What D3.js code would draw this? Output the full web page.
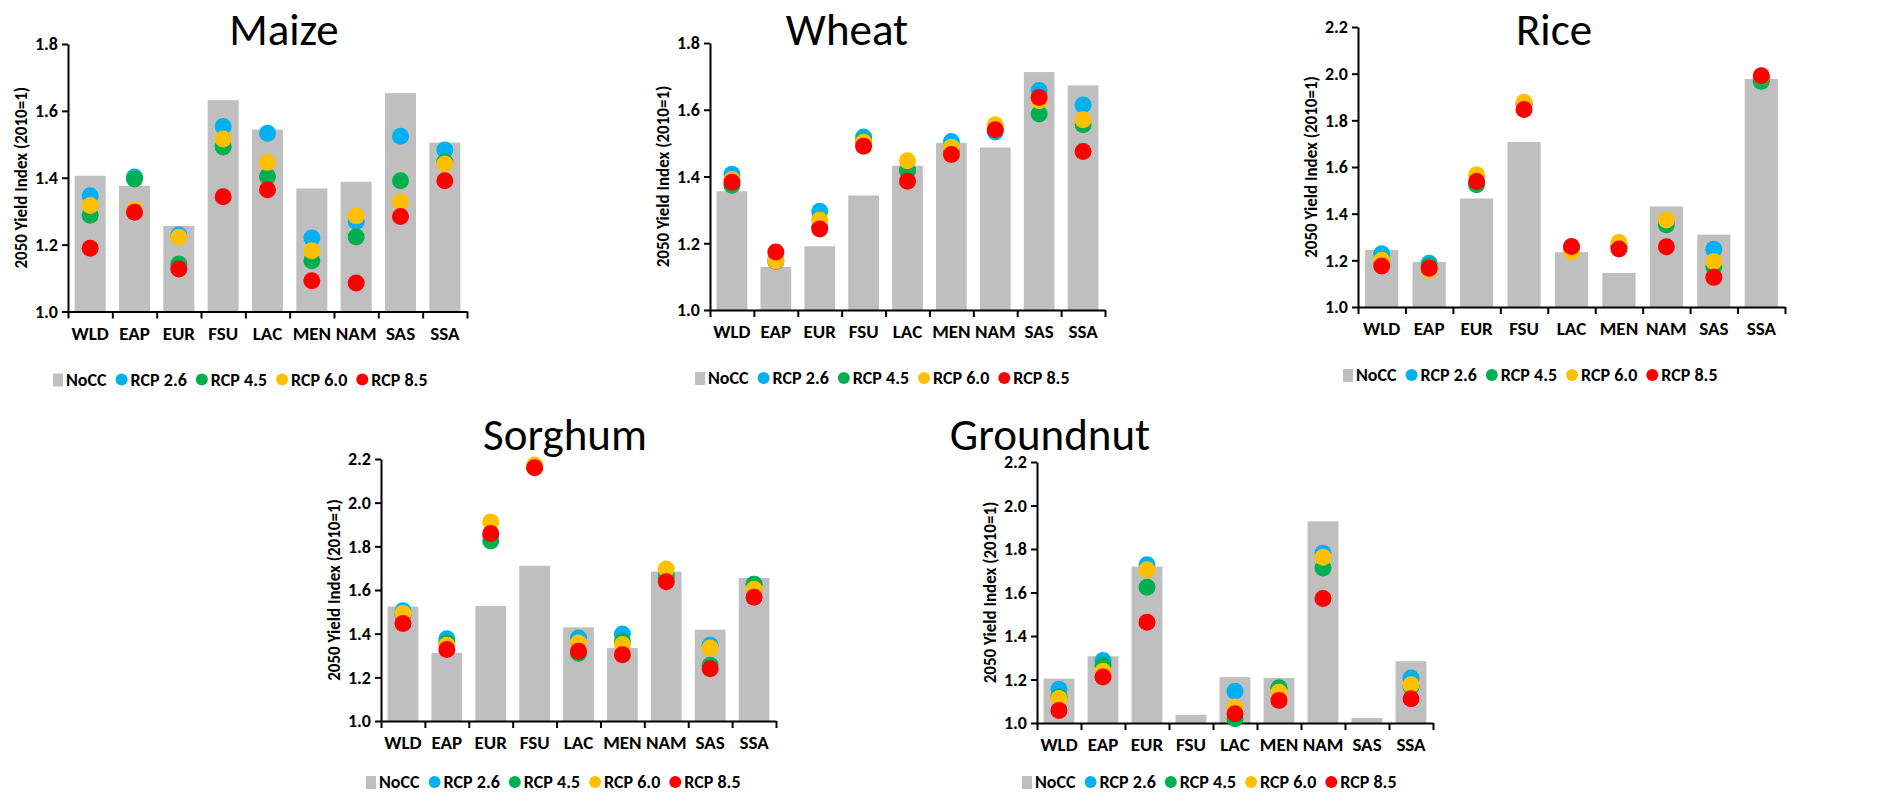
<!DOCTYPE html>
<html>
<head>
<meta charset="utf-8">
<script src="https://cdn.jsdelivr.net/npm/d3@7"></script>
<style>
  body { margin: 0; background: #fff; }
  svg { display: block; }
</style>
</head>
<body>
<div id="viz"></div>
<script>
// regions on the x axis
const regions = ['WLD','EAP','EUR','FSU','LAC','MEN','NAM','SAS','SSA'];
const seriesNames = ['NoCC','RCP 2.6','RCP 4.5','RCP 6.0','RCP 8.5'];

// Maize
const maizeNoCC  = [1.406, 1.376, 1.256, 1.632, 1.544, 1.368, 1.388, 1.653, 1.505];
const maizeRcp26 = [1.346, 1.402, 1.229, 1.553, 1.533, 1.220, 1.269, 1.524, 1.483];
const maizeRcp45 = [1.288, 1.396, 1.142, 1.492, 1.404, 1.152, 1.223, 1.391, 1.447];
const maizeRcp60 = [1.317, 1.305, 1.222, 1.516, 1.446, 1.182, 1.286, 1.328, 1.441];
const maizeRcp85 = [1.189, 1.297, 1.127, 1.343, 1.364, 1.092, 1.085, 1.284, 1.391];

// Wheat
const wheatNoCC  = [1.356, 1.129, 1.191, 1.343, 1.432, 1.501, 1.487, 1.713, 1.673];
const wheatRcp26 = [1.407, 1.150, 1.296, 1.518, 1.420, 1.505, 1.533, 1.658, 1.614];
const wheatRcp45 = [1.374, 1.145, 1.250, 1.508, 1.417, 1.480, 1.543, 1.587, 1.555];
const wheatRcp60 = [1.391, 1.147, 1.270, 1.503, 1.447, 1.488, 1.555, 1.627, 1.570];
const wheatRcp85 = [1.383, 1.174, 1.243, 1.491, 1.386, 1.466, 1.540, 1.637, 1.475];

// Rice
const riceNoCC  = [1.245, 1.193, 1.465, 1.707, 1.235, 1.146, 1.431, 1.310, 1.977];
const riceRcp26 = [1.228, 1.187, 1.530, 1.870, 1.255, 1.260, 1.370, 1.247, 1.980];
const riceRcp45 = [1.195, 1.177, 1.524, 1.870, 1.255, 1.260, 1.352, 1.173, 1.967];
const riceRcp60 = [1.200, 1.156, 1.567, 1.877, 1.237, 1.276, 1.373, 1.195, 1.990];
const riceRcp85 = [1.176, 1.166, 1.538, 1.846, 1.259, 1.249, 1.258, 1.127, 1.991];

// Sorghum
const sorghumNoCC  = [1.524, 1.312, 1.527, 1.711, 1.429, 1.334, 1.684, 1.418, 1.655];
const sorghumRcp26 = [1.505, 1.377, 1.850, 2.165, 1.380, 1.398, 1.669, 1.347, 1.626];
const sorghumRcp45 = [1.486, 1.357, 1.825, 2.165, 1.310, 1.365, 1.657, 1.255, 1.626];
const sorghumRcp60 = [1.494, 1.347, 1.912, 2.172, 1.357, 1.350, 1.696, 1.334, 1.603];
const sorghumRcp85 = [1.447, 1.327, 1.859, 2.160, 1.319, 1.304, 1.638, 1.239, 1.567];

// Groundnut (no scenario points for FSU and SAS)
const groundnutNoCC  = [1.204, 1.307, 1.719, 1.038, 1.211, 1.207, 1.927, 1.023, 1.284];
const groundnutRcp26 = [1.155, 1.287, 1.728, null, 1.146, 1.160, 1.780, null, 1.207];
const groundnutRcp45 = [1.120, 1.265, 1.624, null, 1.020, 1.162, 1.713, null, 1.169];
const groundnutRcp60 = [1.113, 1.238, 1.705, null, 1.074, 1.141, 1.762, null, 1.176];
const groundnutRcp85 = [1.058, 1.211, 1.463, null, 1.043, 1.104, 1.572, null, 1.112];

const ticksLow  = [1.0, 1.2, 1.4, 1.6, 1.8];
const ticksHigh = [1.0, 1.2, 1.4, 1.6, 1.8, 2.0, 2.2];

const colors = ['#BFBFBF','#00B0F0','#00B050','#FFC000','#FF0000'];
const FONT = "Carlito, Calibri, Lato, sans-serif";

const panels = [
  {title:'Maize', series:[maizeNoCC,maizeRcp26,maizeRcp45,maizeRcp60,maizeRcp85], ticks:ticksLow,
   left:68, right:467, top:44, bottom:311.5, titleX:284, titleY:45},
  {title:'Wheat', series:[wheatNoCC,wheatRcp26,wheatRcp45,wheatRcp60,wheatRcp85], ticks:ticksLow,
   left:710, right:1105, top:43, bottom:310, titleX:847, titleY:45},
  {title:'Rice', series:[riceNoCC,riceRcp26,riceRcp45,riceRcp60,riceRcp85], ticks:ticksHigh,
   left:1358, right:1785, top:27, bottom:307, titleX:1554, titleY:45},
  {title:'Sorghum', series:[sorghumNoCC,sorghumRcp26,sorghumRcp45,sorghumRcp60,sorghumRcp85], ticks:ticksHigh,
   left:381, right:776, top:459, bottom:721, titleX:565, titleY:450},
  {title:'Groundnut', series:[groundnutNoCC,groundnutRcp26,groundnutRcp45,groundnutRcp60,groundnutRcp85], ticks:ticksHigh,
   left:1037, right:1433, top:462, bottom:723, titleX:1050, titleY:450}
];

const svg = d3.select('#viz').append('svg')
  .attr('width', 1879)
  .attr('height', 795)
  .style('font-family', FONT);

panels.forEach(function(p){
  let g = svg.append('g');
  let ticks = p.ticks;

  let x = d3.scaleBand().domain(regions).range([p.left, p.right]).padding(0);
  let xb = d3.scaleLinear().domain([0, regions.length]).range([p.left, p.right]);
  let y = d3.scaleLinear().domain([ticks[0], ticks[ticks.length-1]]).range([p.bottom, p.top]);
  let barW = x.bandwidth() * 0.7;

  // NoCC bars
  g.selectAll('.bar')
    .data(p.series[0])
  .enter().append('rect')
    .attr('class', 'bar')
    .attr('x', function(d,i){ return x(regions[i]) + (x.bandwidth()-barW)/2; })
    .attr('width', barW)
    .attr('y', function(d){ return y(d); })
    .attr('height', function(d){ return y(ticks[0]) - y(d); })
    .attr('fill', colors[0]);

  // y axis
  let ya = g.append('g')
    .attr('transform', 'translate(' + p.left + ',0)')
    .call(d3.axisLeft(y).tickValues(ticks).tickFormat(d3.format('.1f')).tickSize(6).tickSizeOuter(0));
  ya.select('.domain').attr('stroke', '#000').attr('stroke-width', 2);
  ya.selectAll('.tick line').attr('stroke', '#000').attr('stroke-width', 2);
  ya.selectAll('.tick text')
    .attr('x', -10)
    .style('font-family', FONT)
    .style('font-size', '18px')
    .style('font-weight', 'bold')
    .attr('fill', '#000');

  // x axis, ticks between categories
  let xa = g.append('g')
    .attr('transform', 'translate(0,' + p.bottom + ')')
    .call(d3.axisBottom(xb).tickValues(d3.range(regions.length + 1)).tickFormat('').tickSize(7).tickSizeOuter(0));
  xa.select('.domain').attr('stroke', '#000').attr('stroke-width', 2);
  xa.selectAll('.tick line').attr('stroke', '#000').attr('stroke-width', 2);

  // category labels
  let xl = g.append('g')
    .attr('transform', 'translate(0,' + p.bottom + ')')
    .call(d3.axisBottom(x).tickSize(0));
  xl.select('.domain').remove();
  xl.selectAll('.tick text')
    .attr('y', 28)
    .attr('dy', 0)
    .style('font-family', FONT)
    .style('font-size', '19px')
    .style('font-weight', 'bold')
    .attr('fill', '#000');

  // scenario dots, red drawn last
  for (let j = 1; j < 5; j++) {
    let pts = p.series[j].map(function(v,i){ return {v:v, r:regions[i]}; })
      .filter(function(d){ return d.v !== null; });
    g.selectAll('.d' + j)
      .data(pts)
    .enter().append('circle')
      .attr('class', 'd' + j)
      .attr('cx', function(d){ return x(d.r) + x.bandwidth()/2; })
      .attr('cy', function(d){ return y(d.v); })
      .attr('r', 8.5)
      .attr('fill', colors[j]);
  }

  // axis title
  g.append('text')
    .attr('transform', 'translate(' + (p.left - 41) + ',' + ((p.top + p.bottom)/2) + ') rotate(-90)')
    .attr('text-anchor', 'middle')
    .style('font-size', '17px')
    .style('font-weight', 'bold')
    .text('2050 Yield Index (2010=1)');

  // chart title
  g.append('text')
    .attr('x', p.titleX)
    .attr('y', p.titleY)
    .attr('text-anchor', 'middle')
    .style('font-size', '45px')
    .text(p.title);

  // legend, laid out from measured text widths
  let legY = Math.min(p.bottom + 68, 782);
  let cx = p.left - 15;
  let leg = g.append('g');
  seriesNames.forEach(function(name, j){
    let tx;
    if (j === 0) {
      leg.append('rect')
        .attr('x', cx).attr('y', legY - 6)
        .attr('width', 10).attr('height', 13)
        .attr('fill', colors[0]);
      tx = cx + 13;
    } else {
      leg.append('circle')
        .attr('cx', cx).attr('cy', legY)
        .attr('r', 6)
        .attr('fill', colors[j]);
      tx = cx + 9;
    }
    let t = leg.append('text')
      .attr('x', tx)
      .attr('y', legY + 6)
      .style('font-size', '18px')
      .style('font-weight', 'bold')
      .text(name);
    cx = tx + t.node().getComputedTextLength() + 15;
  });
});
</script>
</body>
</html>
